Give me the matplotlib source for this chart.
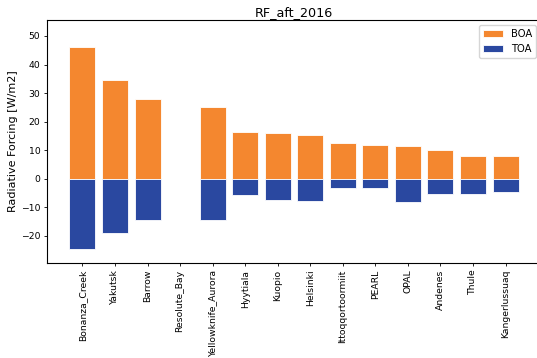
import matplotlib
matplotlib.use("Agg")
import matplotlib.pyplot as plt
import numpy as np

sites = ["Bonanza_Creek", "Yakutsk", "Barrow", "Resolute_Bay", "Yellowknife_Aurora",
         "Hyytiala", "Kuopio", "Helsinki", "Ittoqqortoormiit", "PEARL", "OPAL",
         "Andenes", "Thule", "Kangerlussuaq"]
boa = [46.2, 34.6, 27.9, 0.0, 25.1, 16.5, 16.0, 15.2, 12.5, 11.9, 11.3, 9.9, 8.0, 7.8]
toa = [-24.5, -19.0, -14.4, 0.0, -14.4, -5.6, -7.3, -7.8, -3.3, -3.3, -8.2, -5.2, -5.4, -4.5]

ORANGE = "#F4872F"
BLUE = "#2A48A0"

fig = plt.figure(figsize=(5.37, 3.58), dpi=100)
ax = fig.add_axes([47 / 537, 95 / 358, 494 / 537, 243 / 358])

x = np.arange(len(sites))
ax.bar(x, boa, 0.8, color=ORANGE, edgecolor="white", lw=0.6, label="BOA")
ax.bar(x, toa, 0.8, color=BLUE, edgecolor="white", lw=0.6, label="TOA")

ax.set_xticks(x)
ax.set_xticklabels(sites, rotation=90)
ax.tick_params(labelsize=6.7, length=2.4, pad=2.4, width=0.6)
ax.set_ylim(-29.5, 55.6)
ax.set_yticks([-20, -10, 0, 10, 20, 30, 40, 50])
ax.set_ylabel("Radiative Forcing [W/m2]", fontsize=8, labelpad=2)
ax.set_title("RF_aft_2016", fontsize=9.2, pad=3)
ax.legend(loc="upper right", fontsize=7.2)

fig.savefig("out.png", dpi=100)
